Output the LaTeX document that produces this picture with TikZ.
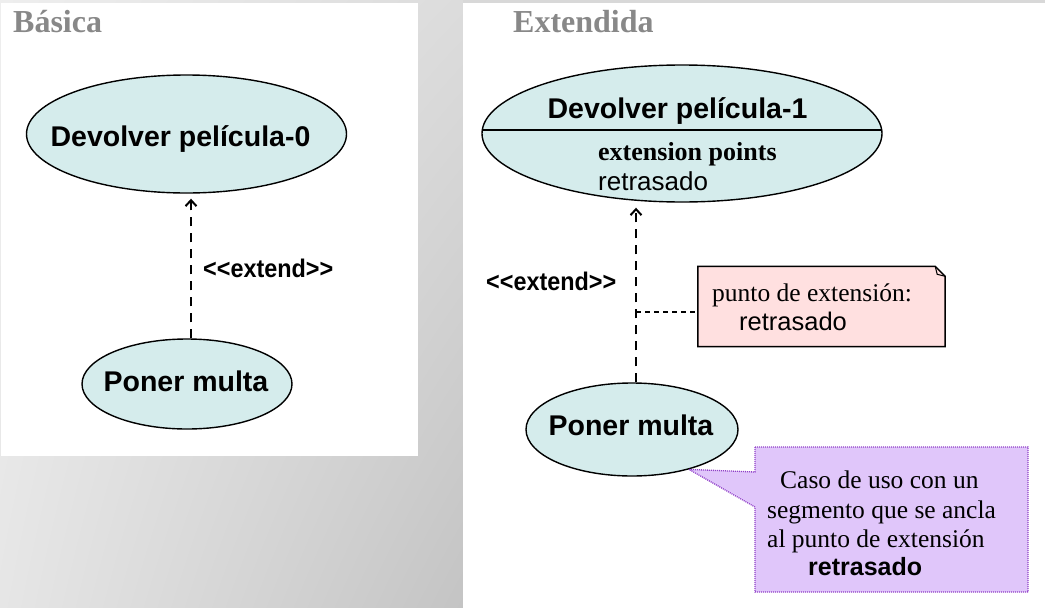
\documentclass[tikz,border=0pt]{standalone}
\usepackage{fontspec}
\setmainfont{Liberation Serif}
\setsansfont{Liberation Sans}
\usetikzlibrary{shapes.geometric,arrows.meta,shadings}
\definecolor{ucfill}{HTML}{D5ECEC}
\definecolor{notefill}{HTML}{FFE0E0}
\definecolor{callfill}{HTML}{E0C6FA}
\definecolor{calldraw}{HTML}{9040C8}
\definecolor{titlegray}{HTML}{888888}
\definecolor{bgA}{HTML}{EEEEEE}
\definecolor{bgB}{HTML}{DCDCDC}
\definecolor{bgC}{HTML}{E6E6E6}
\definecolor{bgD}{HTML}{C4C4C4}
\definecolor{topgray}{HTML}{D8D8D8}
\begin{document}
\begin{tikzpicture}[x=1pt,y=-1pt,
  usecase/.style={ellipse, draw, line width=1.4pt, fill=ucfill, inner sep=0pt},
  ucfont/.style={font=\sffamily\bfseries\fontsize{28.5}{30}\selectfont},
  uctext/.style={ucfont, inner sep=0pt, anchor=base},
  txt/.style={inner sep=0pt, anchor=base west},
  serif/.style={font=\rmfamily\fontsize{25.5}{28}\selectfont},
  sans/.style={font=\sffamily\fontsize{25.5}{28}\selectfont},
  titlefont/.style={font=\rmfamily\bfseries\fontsize{32}{34}\selectfont, text=titlegray},
  extlabel/.style={font=\sffamily\bfseries\fontsize{25.5}{28}\selectfont},
  extendlink/.style={line width=2pt, dash pattern=on 9pt off 7pt,
    -{Straight Barb[length=6pt,width=11pt]}, shorten >=5pt},
  notelink/.style={line width=1.3pt, dash pattern=on 5pt off 4pt},
]
\useasboundingbox (0,0) rectangle (1045,608);
% background
\shade[upper left=bgA, upper right=bgB, lower left=bgC, lower right=bgD] (0,0) rectangle (463,608);
\fill[topgray] (463,0) rectangle (1045,3);
\fill[white] (1,3) rectangle (418,456);
\fill[white] (463,3) rectangle (1045,608);

% ---------- Basica ----------
\node[txt, titlefont] (t1) at (13,32) {Básica};
\node[usecase, minimum width=320pt, minimum height=118pt] (dev0) at (186.5,134) {};
\node[uctext] (dev0t) at (180.5,146) {Devolver película-0};
\node[usecase, minimum width=210pt, minimum height=90pt] (pm1) at (187,384) {};
\node[uctext] (pm1t) at (186,391) {Poner multa};
\coordinate (al) at (191,0);
\draw[extendlink] (pm1.north -| al) -- (dev0.south -| al);
\node[txt, extlabel] (x0) at (203,277) {\scalebox{0.917}[1]{<\kern0pt<extend>\kern0pt>}};

% ---------- Extendida ----------
\node[txt, titlefont] (t2) at (513,32) {Extendida};
\node[usecase, minimum width=400pt, minimum height=137pt,
  path picture={\draw[line width=1.4pt] ([yshift=3.5pt]path picture bounding box.west) -- ([yshift=3.5pt]path picture bounding box.east);}]
  (dev1) at (682,133.5) {};
\node[uctext] (dev1t) at (677.5,118) {Devolver película-1};
\node[txt, font=\rmfamily\bfseries\fontsize{26}{28}\selectfont] (ep) at (598,160) {extension points};
\node[txt, font=\sffamily\fontsize{26}{28}\selectfont] (ret1) at (598,190) {retrasado};

\node[usecase, minimum width=212pt, minimum height=93pt] (pm2) at (632,429.5) {};
\node[uctext] (pm2t) at (631,435) {Poner multa};
\coordinate (ax) at (636,0);
\draw[extendlink] (pm2.north -| ax) -- (dev1.south -| ax);
\node[txt, extlabel] (x1) at (486,290) {\scalebox{0.917}[1]{<\kern0pt<extend>\kern0pt>}};

% note
\node[inner sep=0pt, minimum width=247pt, minimum height=80pt] (note) at (821.5,306.5) {};
\draw[fill=notefill, line width=1.5pt, line join=miter]
  (note.north west) -- ([xshift=-10pt]note.north east) -- ([yshift=-10pt]note.north east)
  -- (note.south east) -- (note.south west) -- cycle;
\draw[line width=1pt] ([xshift=-10pt]note.north east) -- ([xshift=-8pt,yshift=-8pt]note.north east) -- ([yshift=-10pt]note.north east);
\node[txt, serif] (n1) at (712,301) {punto de extensión:};
\node[txt, sans] (n2) at (739,330) {retrasado};
\coordinate (nj) at (636,312);
\draw[notelink] (nj) -- (nj -| note.west);

% callout
\coordinate (tip) at (pm2.-35.7);
\draw[fill=callfill, draw=calldraw, line width=1.3pt, dash pattern=on 1pt off 1pt]
  (755,447) -- (1028,447) -- (1028,592) -- (755,592) -- (755,507) -- (tip) -- (755,472) -- cycle;
\node[txt, serif] (c1) at (780,488) {Caso de uso con un};
\node[txt, serif] (c2) at (767,518) {segmento que se ancla};
\node[txt, serif] (c3) at (767,547) {al punto de extensión};
\node[txt, font=\sffamily\bfseries\fontsize{25}{28}\selectfont] (c4) at (808,575) {retrasado};
\end{tikzpicture}
\end{document}
